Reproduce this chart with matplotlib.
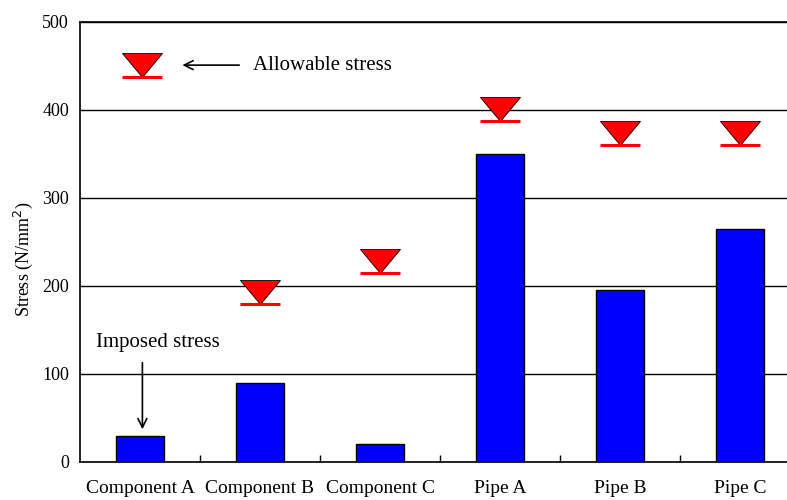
import matplotlib

matplotlib.use("Agg")
import matplotlib.pyplot as plt
import numpy as np

categories = ["Component A", "Component B", "Component C", "Pipe A", "Pipe B", "Pipe C"]
imposed = [30, 90, 20, 350, 195, 265]
# allowable stress per category (None = not shown)
allowable = [None, 180, 215, 388, 360, 360]
legend_allowable = 437

plt.rcParams["font.family"] = ["Liberation Serif", "DejaVu Serif"]

fig = plt.figure(figsize=(7.87, 5.0), dpi=100)
ax = fig.add_axes([80 / 787, 38 / 500, 720 / 787, 440 / 500])

x = np.arange(len(categories))
ax.bar(x, imposed, width=0.4, color="#0000ff", edgecolor="black", linewidth=1, zorder=3)

# downward triangle with apex at the origin
tri = [(-20, 24), (20, 24), (0, 0), (-20, 24)]


def allow_marker(xpos, value):
    ax.plot([xpos], [value], marker=tri, markersize=34.5, color="red",
            markeredgecolor="black", markeredgewidth=0.6, linestyle="none", zorder=4)
    ax.hlines(value, xpos - 0.167, xpos + 0.167, color="red", linewidth=2.2, zorder=5)


for xi, v in zip(x, allowable):
    if v is not None:
        allow_marker(xi, v)

# legend-like annotations
allow_marker(0.02, legend_allowable)
ax.annotate("", xy=(0.33, 451), xytext=(0.85, 451),
            arrowprops=dict(arrowstyle="->", color="black", lw=1.2, mutation_scale=16))
ax.text(0.94, 451, "Allowable stress", fontsize=15, va="center", ha="left")

ax.text(0.15, 136, "Imposed stress", fontsize=15, va="center", ha="center")
ax.annotate("", xy=(0.02, 34), xytext=(0.02, 116),
            arrowprops=dict(arrowstyle="->", color="black", lw=1.2, mutation_scale=16))

ax.set_xlim(-0.5, 5.5)
ax.set_ylim(0, 500)
ax.set_yticks([0, 100, 200, 300, 400, 500])
ax.yaxis.grid(True, color="black", linewidth=1, zorder=0)
ax.set_axisbelow(True)
ax.set_xticks(x)
ax.set_xticklabels(categories, fontsize=14)
ax.set_xticks(x[:-1] + 0.5, minor=True)
ax.tick_params(axis="x", which="major", length=0, pad=13)
ax.tick_params(axis="x", which="minor", direction="in", length=5, width=1)
ax.tick_params(axis="y", length=0, labelsize=13, pad=8)
ax.set_ylabel("Stress (N/mm$^2$)", fontsize=13)
ax.yaxis.set_label_coords(-0.063, 0.46)

for side in ["right"]:
    ax.spines[side].set_visible(False)
for side in ["left", "bottom", "top"]:
    ax.spines[side].set_linewidth(1.2)

fig.savefig("out.png", dpi=100)
